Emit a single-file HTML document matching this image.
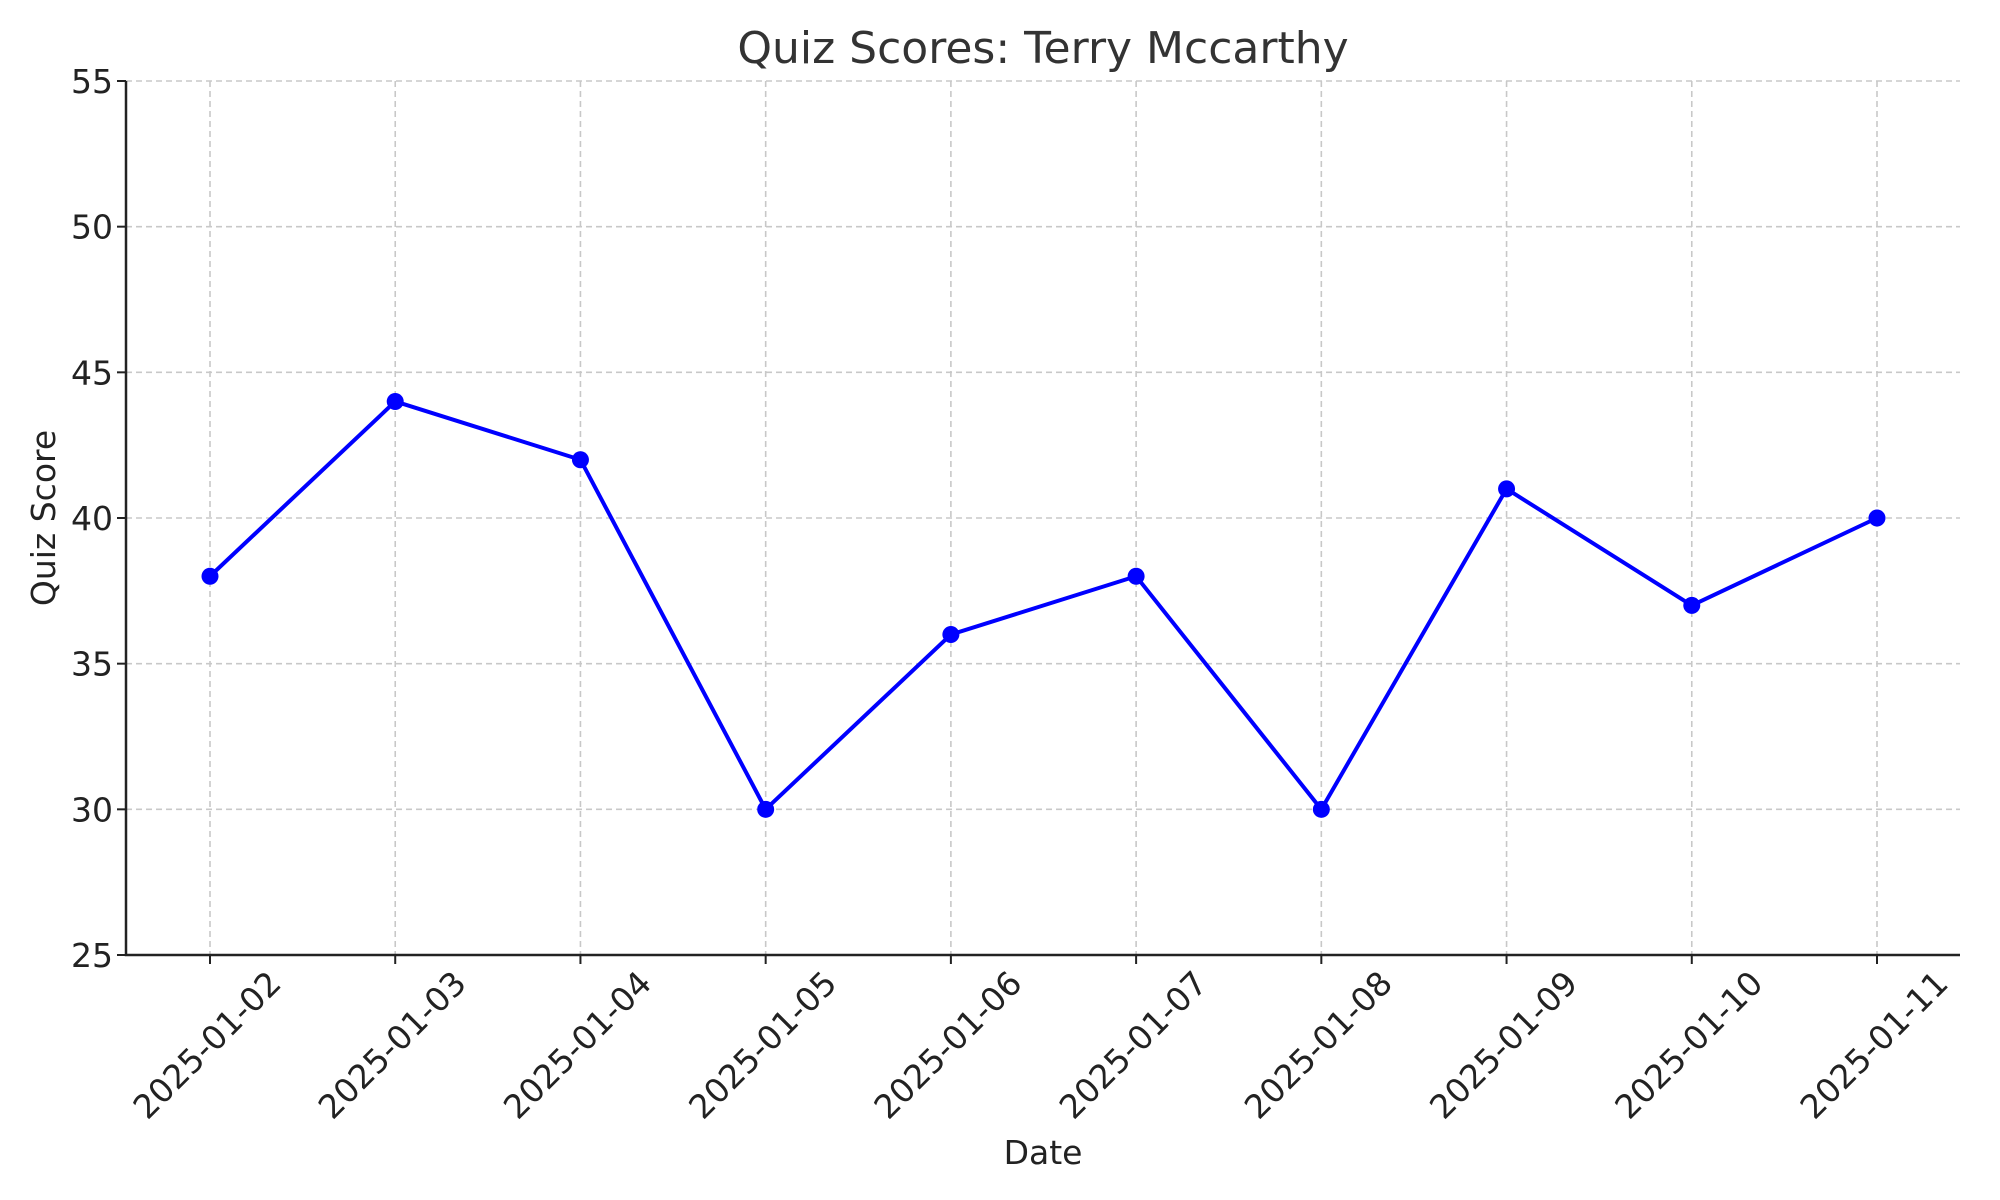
<!DOCTYPE html>
<html><head><meta charset="utf-8"><style>
html,body{margin:0;padding:0;background:#fff;}
svg{display:block;font-family:"DejaVu Sans","Liberation Sans",sans-serif;}
</style></head><body>
<svg id="chart" width="2000" height="1200" viewBox="0 0 2000 1200">
<rect width="2000" height="1200" fill="#fff"/>
<text x="1043" y="63" font-size="44" fill="#333" text-anchor="middle">Quiz Scores: Terry Mccarthy</text>
<text x="1043" y="1164" font-size="33" fill="#222" text-anchor="middle">Date</text>
<text x="0" y="0" font-size="33" fill="#222" text-anchor="middle" transform="translate(55,518) rotate(-90)">Quiz Score</text>
<g id="grid"></g><g id="axes"></g><g id="series"></g>
</svg>
<script>
const categories = ["2025-01-02","2025-01-03","2025-01-04","2025-01-05","2025-01-06","2025-01-07","2025-01-08","2025-01-09","2025-01-10","2025-01-11"];
const scores = [38,44,42,30,36,38,30,41,37,40];
const yTicks = [25,30,35,40,45,50,55];
const NS="http://www.w3.org/2000/svg";
const L=126,R=1960,T=81,B=955,yMin=25,yMax=55;
const x0=210,x1=1877;
function xs(i){return x0+(x1-x0)*i/(categories.length-1);}
function ys(v){return B-(v-yMin)/(yMax-yMin)*(B-T);}
function mk(tag,attrs,parent){const e=document.createElementNS(NS,tag);for(const k in attrs)e.setAttribute(k,attrs[k]);parent.appendChild(e);return e;}
const grid=document.getElementById('grid'),axes=document.getElementById('axes'),ser=document.getElementById('series');
yTicks.forEach(v=>{
 const g=mk('line',{x1:L,x2:R,y1:ys(v),y2:ys(v),stroke:'#c8c8c8','stroke-width':1.6,'stroke-dasharray':'6,4'},grid);
 
 
 const t=mk('line',{x1:L-9,x2:L,y1:ys(v),y2:ys(v),stroke:'#222','stroke-width':2},axes);
 
 
 const tx=mk('text',{x:L-13,y:ys(v)+12,'font-size':33,fill:'#222','text-anchor':'end'},axes);
 tx.textContent=v;
 
 
});
categories.forEach((c,i)=>{
 const x=xs(i);
 const g=mk('line',{x1:x,x2:x,y1:T,y2:B,stroke:'#c8c8c8','stroke-width':1.6,'stroke-dasharray':'6,4'},grid);
 
 
 const t=mk('line',{x1:x,x2:x,y1:B,y2:B+9,stroke:'#222','stroke-width':2},axes);
 
 
 const tx=mk('text',{x:0,y:0,'font-size':33,fill:'#222','text-anchor':'middle','dominant-baseline':'central',transform:`translate(${x-3},1045) rotate(-45)`},axes);
 tx.textContent=c;
 
 
});
const ax=mk('path',{d:`M${L},${T} L${L},${B} L${R},${B}`,fill:'none',stroke:'#222','stroke-width':2.5},axes);


const pl=mk('polyline',{points:scores.map((v,i)=>xs(i)+','+ys(v)).join(' '),fill:'none',stroke:'#0000ff','stroke-width':4,'stroke-linejoin':'round'},ser);


scores.forEach((v,i)=>{
 const c=mk('circle',{cx:xs(i),cy:ys(v),r:8.5,fill:'#0000ff'},ser);
 
 
});
</script>
</body></html>
